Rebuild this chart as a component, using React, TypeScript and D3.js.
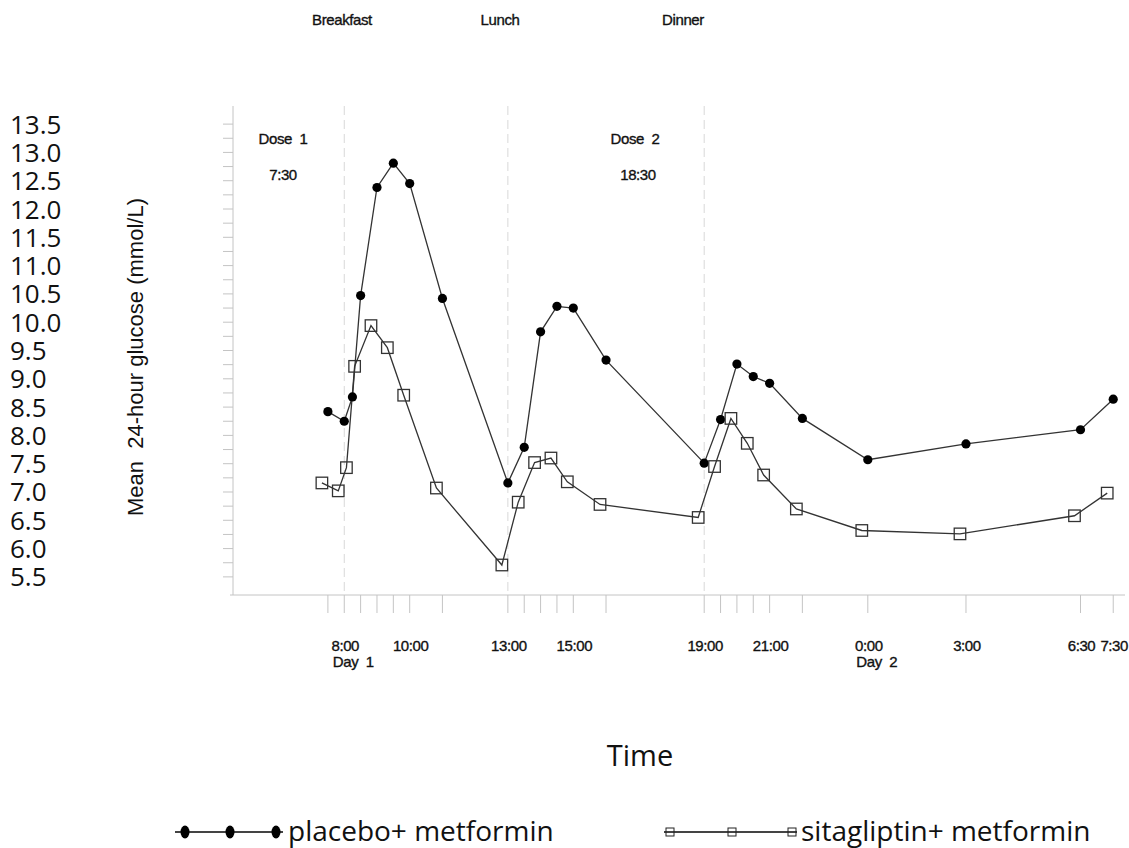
import React, { useEffect, useRef } from 'react';
import * as d3 from 'd3';

// hours from midnight of day 1
const times = [7.5, 8, 8.25, 8.5, 9, 9.5, 10, 11, 13, 13.5, 14, 14.5, 15, 16, 19, 19.5, 20, 20.5, 21, 22, 24, 27, 30.5, 31.5];
const placebo = [8.42, 8.25, 8.68, 10.47, 12.38, 12.81, 12.45, 10.42, 7.16, 7.79, 9.83, 10.28, 10.25, 9.33, 7.51, 8.28, 9.26, 9.04, 8.92, 8.3, 7.57, 7.85, 8.1, 8.64];
const sitagliptin = [7.16, 7.02, 7.43, 9.22, 9.94, 9.55, 8.71, 7.07, 5.71, 6.82, 7.52, 7.6, 7.18, 6.78, 6.55, 7.45, 8.3, 7.86, 7.3, 6.7, 6.32, 6.26, 6.58, 6.98];

const tickTimes = [7.5, 8, 8.5, 9, 9.5, 10, 11, 13, 13.5, 14, 14.5, 15, 16, 19, 19.5, 20, 20.5, 21, 22, 24, 27, 30.5, 31.5];
const labelTimes = [8, 10, 13, 15, 19, 21, 24, 27, 30.5, 31.5];
const labelTexts = ['8:00', '10:00', '13:00', '15:00', '19:00', '21:00', '0:00', '3:00', '6:30', '7:30'];
const dayTimes = [8, 24];
const dayTexts = ['Day  1', 'Day  2'];
const mealTimes = [8, 13, 19];
const yTicks = d3.range(5.5, 13.51, 0.25);
const yLabels = d3.range(5.5, 13.51, 0.5);

const plotFont = '"Liberation Sans", Arial, sans-serif';
const bigFont = '"Open Sans", sans-serif';

export default function App() {
  const svgRef = useRef<SVGSVGElement>(null);

  useEffect(() => {
    document.body.style.margin = '0';
    if (!svgRef.current) return;
    const svg = d3.select(svgRef.current);
    svg.selectAll('*').remove();

    const x = d3.scaleLinear().domain([4.6, 31.86]).range([233, 1125]);
    const y = d3.scaleLinear().domain([5.18, 13.82]).range([595, 106]);
    const axisColor = '#c4c4c4';
    const dodge = -6; // sitagliptin markers are shifted a little left

    // meal reference lines
    svg.append('g').selectAll('line').data(mealTimes).join('line')
      .attr('x1', d => x(d)).attr('x2', d => x(d))
      .attr('y1', 106).attr('y2', 595)
      .attr('stroke', '#d8d8d8').attr('stroke-width', 1)
      .attr('stroke-dasharray', '9,5');

    // y axis
    svg.append('line').attr('x1', 233).attr('x2', 233).attr('y1', 106).attr('y2', 595)
      .attr('stroke', axisColor);
    svg.append('g').selectAll('line').data(yTicks).join('line')
      .attr('x1', 223).attr('x2', 233)
      .attr('y1', d => y(d)).attr('y2', d => y(d))
      .attr('stroke', axisColor);
    svg.append('g').selectAll('text').data(yLabels).join('text')
      .attr('x', 10).attr('y', d => y(d) + 9.5)
      .style('font-family', bigFont).style('font-size', '26px')
      .attr('fill', '#111')
      .text(d => d.toFixed(1));

    // x axis
    svg.append('line').attr('x1', 230).attr('x2', 1125).attr('y1', 595).attr('y2', 595)
      .attr('stroke', axisColor);
    svg.append('g').selectAll('line').data(tickTimes).join('line')
      .attr('x1', d => x(d)).attr('x2', d => x(d))
      .attr('y1', 595).attr('y2', 613)
      .attr('stroke', axisColor);

    const small = (sel: any) => sel
      .style('font-family', plotFont).style('font-size', '15px')
      .style('letter-spacing', '-0.4px').style('white-space', 'pre')
      .attr('fill', '#111').attr('stroke', '#111').attr('stroke-width', 0.35);

    svg.append('g').selectAll('text').data(labelTimes).join('text')
      .attr('x', d => x(d) + 1).attr('y', 651)
      .attr('text-anchor', 'middle')
      .call(small)
      .text((d, i) => labelTexts[i]);
    svg.append('g').selectAll('text').data(dayTimes).join('text')
      .attr('x', d => x(d) + 9).attr('y', 667)
      .attr('text-anchor', 'middle')
      .call(small)
      .text((d, i) => dayTexts[i]);

    // annotations
    const notes: [string, number, number][] = [
      ['Breakfast', 342, 25], ['Lunch', 500, 25], ['Dinner', 683, 25],
      ['Dose  1', 283, 144], ['7:30', 283, 180], ['Dose  2', 635, 144], ['18:30', 638, 180],
    ];
    svg.append('g').selectAll('text').data(notes).join('text')
      .attr('x', d => d[1]).attr('y', d => d[2])
      .attr('text-anchor', 'middle')
      .call(small)
      .text(d => d[0]);

    // axis titles
    svg.append('text')
      .attr('transform', 'translate(143,357) rotate(-90)')
      .attr('text-anchor', 'middle')
      .style('font-family', plotFont).style('font-size', '22px').style('white-space', 'pre')
      .attr('fill', '#111')
      .text('Mean  24-hour glucose (mmol/L)');
    svg.append('text')
      .attr('x', 640).attr('y', 766).attr('text-anchor', 'middle')
      .style('font-family', bigFont).style('font-size', '29px')
      .attr('fill', '#111')
      .text('Time');

    const lineColor = '#333';
    const plLine = d3.line<number>().x((d, i) => x(times[i])).y(d => y(d));
    const siLine = d3.line<number>().x((d, i) => x(times[i]) + dodge).y(d => y(d));

    svg.append('path').datum(placebo).attr('d', plLine)
      .attr('fill', 'none').attr('stroke', lineColor).attr('stroke-width', 1.3);
    svg.append('path').datum(sitagliptin).attr('d', siLine)
      .attr('fill', 'none').attr('stroke', lineColor).attr('stroke-width', 1.3);

    svg.append('g').selectAll('circle').data(placebo).join('circle')
      .attr('cx', (d, i) => x(times[i])).attr('cy', d => y(d))
      .attr('r', 4.6).attr('fill', '#000');
    const sq = 11.5;
    svg.append('g').selectAll('rect').data(sitagliptin).join('rect')
      .attr('x', (d, i) => x(times[i]) + dodge - sq / 2).attr('y', d => y(d) - sq / 2)
      .attr('width', sq).attr('height', sq)
      .attr('fill', 'none').attr('stroke', '#333').attr('stroke-width', 1.3);

    // legend
    const lg = svg.append('g');
    const ly = 832;
    lg.append('line').attr('x1', 175).attr('x2', 283).attr('y1', ly).attr('y2', ly)
      .attr('stroke', '#444').attr('stroke-width', 2);
    lg.selectAll('ellipse').data([185, 230, 276]).join('ellipse')
      .attr('cx', d => d).attr('cy', ly).attr('rx', 4.5).attr('ry', 6.5).attr('fill', '#000');
    lg.append('text').attr('x', 288).attr('y', ly + 9)
      .style('font-family', bigFont).style('font-size', '28px')
      .attr('fill', '#111')
      .text('placebo+ metformin');
    lg.append('line').attr('x1', 664).attr('x2', 797).attr('y1', ly).attr('y2', ly)
      .attr('stroke', '#444').attr('stroke-width', 2);
    lg.selectAll('rect').data([670, 732, 792]).join('rect')
      .attr('x', d => d - 4).attr('y', ly - 4).attr('width', 8).attr('height', 8)
      .attr('fill', 'none').attr('stroke', '#222').attr('stroke-width', 1);
    lg.append('text').attr('x', 801).attr('y', ly + 9)
      .style('font-family', bigFont).style('font-size', '28px')
      .attr('fill', '#111')
      .text('sitagliptin+ metformin');
  }, []);

  return <svg ref={svgRef} width={1129} height={848} style={{ display: 'block', background: '#fff' }} />;
}
